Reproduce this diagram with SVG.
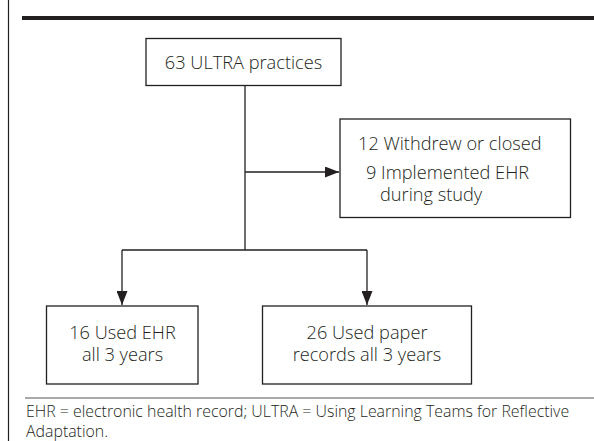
<svg xmlns="http://www.w3.org/2000/svg" width="594" height="441" viewBox="0 0 594 441">
<defs>
<style>
.box{fill:#fff;stroke:#231f20;stroke-width:1.3}
.t{font-family:"Open Sans","Noto Sans","Liberation Sans",sans-serif;font-size:18.2px;font-weight:350;fill:#231f20}
.c{stroke:#231f20;stroke-width:1.3;fill:none}
.fn{font-family:"Open Sans","Noto Sans","Liberation Sans",sans-serif;font-size:15.9px;font-weight:350;fill:#231f20}
</style>
<marker id="ah" viewBox="0 0 14 11" refX="14" refY="5.5" markerWidth="14" markerHeight="11" markerUnits="userSpaceOnUse" orient="auto">
<path d="M0,0 L14,5.5 L0,11 Z" fill="#231f20"/>
</marker>
</defs>
<rect width="594" height="441" fill="#fff"/>
<line x1="8.5" y1="0" x2="8.5" y2="441" stroke="#231f20" stroke-width="1.2"/>
<rect x="22" y="16" width="572" height="4" fill="#231f20"/>
<line x1="25" y1="398" x2="594" y2="398" stroke="#555" stroke-width="1"/>
<g id="connectors">
<path class="c" d="M245,85 V250"/>
<path class="c" d="M245,172 H339" marker-end="url(#ah)"/>
<path class="c" d="M122,250 H367"/>
<path class="c" d="M122,250 V305" marker-end="url(#ah)"/>
<path class="c" d="M367,250 V305" marker-end="url(#ah)"/>
</g>
<g id="n1">
<rect class="box" x="146" y="38.5" width="195" height="47"/>
<text class="t" x="243.5" y="69" text-anchor="middle">63 ULTRA practices</text>
</g>
<g id="n2">
<rect class="box" x="340" y="119" width="230.5" height="98.5"/>
<text class="t" x="358" y="150">12 Withdrew or closed</text>
<text class="t" x="366" y="179">9 Implemented EHR</text>
<text class="t" x="380" y="201">during study</text>
</g>
<g id="n3">
<rect class="box" x="46.5" y="306" width="151.5" height="78"/>
<text class="t" x="122.5" y="339" text-anchor="middle">16 Used EHR</text>
<text class="t" x="122.5" y="361" text-anchor="middle">all 3 years</text>
</g>
<g id="n4">
<rect class="box" x="262.5" y="306" width="209" height="78"/>
<text class="t" x="367" y="339" text-anchor="middle">26 Used paper</text>
<text class="t" x="367" y="361" text-anchor="middle">records all 3 years</text>
</g>
<g id="footnote">
<text class="fn" x="26" y="417">EHR = electronic health record; ULTRA = Using Learning Teams for Reflective</text>
<text class="fn" x="26" y="437">Adaptation.</text>
</g>
</svg>
